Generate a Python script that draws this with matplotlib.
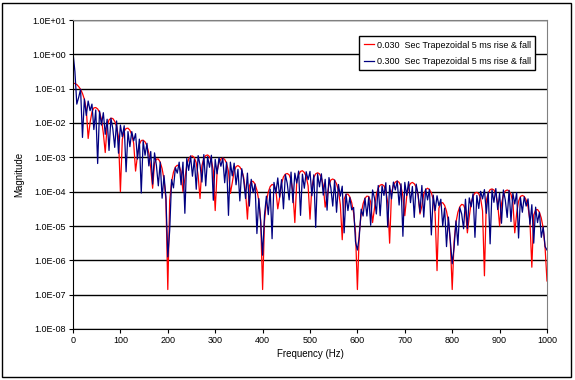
import numpy as np
import matplotlib
matplotlib.use("Agg")
import matplotlib.pyplot as plt
from matplotlib.patches import Rectangle
from matplotlib.ticker import FixedLocator, FuncFormatter

plt.rcParams['font.family'] = ['Liberation Sans', 'DejaVu Sans']

# frequency bins (Hz), 4 Hz spacing
freq = np.arange(0, 1001, 4)

# log10 magnitude, one value per bin
red_log = [
    -0.84, -0.85, -0.88, -0.94, -1.02, -1.14, -1.31, -1.60, -2.45, -1.99,
    -1.68, -1.56, -1.55, -1.59, -1.69, -1.89, -2.30, -2.86, -2.09, -1.91,
    -1.86, -1.87, -1.95, -2.10, -2.41, -4.00, -2.48, -2.24, -2.16, -2.15,
    -2.21, -2.34, -2.59, -3.40, -2.95, -2.62, -2.51, -2.50, -2.55, -2.66,
    -2.88, -3.31, -3.90, -3.17, -3.05, -3.05, -3.14, -3.33, -3.64, -4.23,
    -6.85, -4.26, -3.71, -3.43, -3.28, -3.23, -3.25, -3.42, -4.00, -3.63,
    -3.23, -3.05, -2.97, -2.96, -3.01, -3.16, -3.53, -4.20, -3.24, -3.03,
    -2.95, -2.93, -2.98, -3.10, -3.38, -4.55, -3.41, -3.15, -3.05, -3.02,
    -3.06, -3.17, -3.41, -4.05, -3.74, -3.40, -3.27, -3.24, -3.28, -3.38,
    -3.58, -4.00, -4.80, -3.84, -3.70, -3.70, -3.78, -3.96, -4.26, -4.84,
    -6.85, -4.86, -4.29, -4.01, -3.85, -3.79, -3.81, -3.96, -4.50, -4.16,
    -3.76, -3.57, -3.49, -3.47, -3.51, -3.66, -4.02, -4.90, -3.72, -3.51,
    -3.41, -3.39, -3.44, -3.56, -3.83, -4.80, -3.85, -3.59, -3.48, -3.45,
    -3.48, -3.59, -3.82, -4.45, -4.14, -3.80, -3.66, -3.63, -3.67, -3.77,
    -3.97, -4.38, -5.40, -4.22, -4.08, -4.07, -4.15, -4.32, -4.62, -5.19,
    -6.85, -5.20, -4.64, -4.35, -4.19, -4.13, -4.14, -4.30, -4.90, -4.49,
    -4.08, -3.89, -3.81, -3.79, -3.83, -3.97, -4.33, -5.50, -4.03, -3.81,
    -3.72, -3.69, -3.73, -3.85, -4.13, -4.70, -4.14, -3.87, -3.76, -3.73,
    -3.77, -3.87, -4.10, -4.65, -4.42, -4.07, -3.94, -3.90, -3.94, -4.03,
    -4.23, -4.65, -6.30, -4.48, -4.33, -4.32, -4.40, -4.57, -4.87, -5.44,
    -6.85, -5.45, -4.89, -4.60, -4.44, -4.37, -4.39, -4.54, -5.20, -4.73,
    -4.32, -4.13, -4.04, -4.02, -4.06, -4.20, -4.56, -6.45, -4.25, -4.04,
    -3.94, -3.92, -3.95, -4.07, -4.35, -5.00, -4.35, -4.09, -3.98, -3.95,
    -3.98, -4.08, -4.31, -5.20, -4.63, -4.28, -4.14, -4.11, -4.14, -4.24,
    -4.44, -4.85, -6.20, -4.68, -4.53, -4.52, -4.60, -4.77, -5.07, -5.64,
    -6.60,
]

blue_log = [
    0.05, -0.50, -1.45, -1.25, -1.02, -2.42, -1.30, -1.78, -1.36, -1.64,
    -1.45, -2.19, -1.62, -3.18, -1.65, -2.06, -1.70, -2.33, -1.89, -2.80,
    -1.86, -2.17, -2.71, -1.94, -2.88, -2.06, -2.40, -2.08, -3.42, -2.25,
    -2.69, -2.25, -2.52, -2.31, -3.05, -2.47, -4.04, -2.52, -2.94, -2.59,
    -3.25, -2.83, -3.78, -2.87, -3.24, -3.83, -3.14, -4.19, -3.53, -4.15,
    -5.90, -5.13, -3.65, -3.89, -3.30, -3.46, -3.14, -3.80, -3.14, -4.63,
    -3.03, -3.38, -2.96, -3.55, -3.06, -3.93, -2.95, -3.22, -3.72, -2.92,
    -3.83, -2.98, -3.29, -2.94, -4.25, -3.06, -3.48, -3.01, -3.26, -3.02,
    -3.74, -3.14, -4.69, -3.14, -3.54, -3.17, -3.80, -3.35, -4.27, -3.33,
    -3.65, -4.20, -3.46, -4.42, -3.64, -4.03, -3.78, -5.22, -4.20, -4.91,
    -5.85, -4.68, -4.13, -4.67, -3.93, -5.37, -3.73, -4.04, -3.60, -4.16,
    -3.65, -4.50, -3.50, -3.76, -4.24, -3.43, -4.32, -3.46, -3.75, -3.40,
    -4.69, -3.49, -3.90, -3.42, -3.65, -3.41, -4.12, -3.51, -5.04, -3.48,
    -3.86, -3.48, -4.10, -3.64, -4.54, -3.59, -3.89, -4.42, -3.66, -4.60,
    -3.79, -4.13, -3.84, -5.20, -4.07, -4.55, -4.17, -4.53, -4.46, -5.46,
    -5.70, -5.30, -4.51, -4.71, -4.19, -4.71, -4.15, -4.98, -3.95, -4.19,
    -4.65, -3.82, -4.70, -3.83, -4.11, -3.74, -5.03, -3.82, -4.21, -3.72,
    -3.95, -3.69, -4.39, -3.77, -5.30, -3.73, -4.11, -3.71, -4.32, -3.85,
    -4.75, -3.78, -4.08, -4.60, -3.82, -4.74, -3.92, -4.24, -3.93, -5.26,
    -4.10, -4.55, -4.12, -4.41, -4.22, -5.00, -4.48, -5.60, -4.74, -5.41,
    -6.10, -5.62, -4.85, -5.56, -4.46, -4.65, -5.08, -4.22, -5.07, -4.18,
    -4.44, -4.06, -5.33, -4.11, -4.49, -3.99, -4.21, -3.94, -4.63, -4.01,
    -5.52, -3.95, -4.31, -3.91, -4.52, -4.04, -4.92, -3.95, -4.24, -4.75,
    -3.96, -4.87, -4.04, -4.36, -4.03, -5.35, -4.17, -4.60, -4.15, -4.42,
    -4.21, -4.95, -4.38, -5.50, -4.45, -4.90, -4.60, -5.33, -5.03, -5.60,
    -5.70,
]

series_labels = ["0.030  Sec Trapezoidal 5 ms rise & fall",
                 "0.300  Sec Trapezoidal 5 ms rise & fall"]
y_ticks = [1e-8, 1e-7, 1e-6, 1e-5, 1e-4, 1e-3, 1e-2, 1e-1, 1e0, 1e1]
x_ticks = [0, 100, 200, 300, 400, 500, 600, 700, 800, 900, 1000]

fig = plt.figure(figsize=(5.75, 3.80), dpi=100)
fig.patches.append(Rectangle((2 / 575, 3 / 380), 569 / 575, 374 / 380,
                             transform=fig.transFigure, fill=False,
                             edgecolor='black', linewidth=1.0))
ax = fig.add_axes([73 / 575, 51 / 380, 474 / 575, 309 / 380])

ax.plot(freq, 10 ** np.array(red_log), color='#ff0000', lw=0.9,
        label=series_labels[0])
ax.plot(freq, 10 ** np.array(blue_log), color='#000080', lw=0.9,
        label=series_labels[1])

ax.set_yscale('log')
ax.set_ylim(1e-8, 1e1)
ax.set_xlim(0, 1000)
ax.yaxis.set_major_locator(FixedLocator(y_ticks))
ax.yaxis.set_minor_locator(FixedLocator([]))
ax.yaxis.set_major_formatter(FuncFormatter(lambda v, p: f"{v:.1E}"))
ax.set_xticks(x_ticks)
ax.tick_params(axis='both', direction='out', length=3, width=0.8,
               labelsize=6.5, pad=2)

ax.grid(True, axis='y', color='black', lw=1.0)
ax.set_axisbelow(True)
for side in ['top', 'right']:
    ax.spines[side].set_color('#808080')
for side in ['left', 'bottom']:
    ax.spines[side].set_color('black')

ax.set_xlabel("Frequency (Hz)", fontsize=7, labelpad=3)
ax.set_ylabel("Magnitude", fontsize=7, labelpad=6)

leg = ax.legend(loc='upper right', bbox_to_anchor=(0.975, 0.948),
                borderaxespad=0, fontsize=6.5, frameon=True, fancybox=False,
                edgecolor='black', framealpha=1, handlelength=1.1,
                handletextpad=0.3, labelspacing=0.8, borderpad=0.5)
leg.get_frame().set_linewidth(1.0)

fig.savefig("out.png", dpi=100)
plt.close(fig)
